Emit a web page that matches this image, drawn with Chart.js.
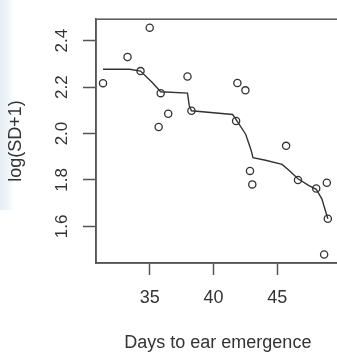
<!DOCTYPE html>
<html>
<head>
<meta charset="utf-8">
<script src="https://cdn.jsdelivr.net/npm/chart.js@4/dist/chart.umd.min.js"></script>
<style>
html,body{margin:0;padding:0;background:#fff;overflow:hidden;width:337px;height:354px;}
#strip{position:absolute;left:0;top:0;width:14px;height:210px;background:linear-gradient(to right,#e6eff5,#f0f5f9 60%,rgba(255,255,255,0));}
#wrap{position:absolute;left:0;top:0;width:345px;height:354px;}
</style>
</head>
<body>
<div id="strip"></div>
<div id="wrap"><canvas id="c" width="345" height="354"></canvas></div>
<script>
// Observed points: days to ear emergence vs log(SD+1)
const days = [31.34, 33.26, 35.00, 34.28, 35.86, 36.45, 35.70, 37.96, 38.27, 41.87, 42.50, 41.77, 45.69, 42.86, 43.04, 46.62, 48.05, 48.88, 48.96, 48.67];
const logSD = [2.217, 2.330, 2.456, 2.269, 2.174, 2.085, 2.028, 2.246, 2.098, 2.218, 2.186, 2.054, 1.947, 1.839, 1.781, 1.800, 1.763, 1.788, 1.633, 1.479];
// Fitted (monotone) curve
const fitDays = [31.34, 33.44, 34.28, 35.20, 35.86, 37.96, 38.10, 38.27, 41.50, 41.77, 42.52, 42.96, 43.09, 44.08, 45.37, 45.89, 46.62, 47.45, 48.05, 48.49, 48.96];
const fitLog = [2.277, 2.277, 2.269, 2.220, 2.180, 2.174, 2.120, 2.098, 2.082, 2.060, 1.997, 1.926, 1.896, 1.885, 1.867, 1.843, 1.805, 1.777, 1.760, 1.719, 1.633];
// Axis ticks
const xTicks = [35, 40, 45];
const yTicks = [1.6, 1.8, 2.0, 2.2, 2.4];
const xTitle = 'Days to ear emergence';
const yTitle = 'log(SD+1)';

const ink = '#333333';
const axisCol = '#555555';
const fontFam = '"Liberation Sans", Arial, sans-serif';

const boxPlugin = {
  id: 'box',
  afterDatasetsDraw(chart) {
    const a = chart.chartArea, ctx = chart.ctx;
    ctx.save();
    ctx.strokeStyle = axisCol;
    ctx.lineWidth = 1.5;
    ctx.strokeRect(a.left, a.top, a.right - a.left, a.bottom - a.top);
    ctx.restore();
  }
};

new Chart(document.getElementById('c'), {
  type: 'scatter',
  data: {
    datasets: [
      {
        type: 'line',
        data: fitDays.map((x, i) => ({x: x, y: fitLog[i]})),
        borderColor: '#333333',
        borderWidth: 1.4,
        pointRadius: 0,
        tension: 0,
        fill: false
      },
      {
        data: days.map((x, i) => ({x: x, y: logSD[i]})),
        showLine: false,
        pointRadius: 3.6,
        pointBorderWidth: 1.3,
        pointBorderColor: '#333333',
        pointBackgroundColor: 'rgba(255,255,255,0)'
      }
    ]
  },
  options: {
    responsive: false,
    animation: false,
    layout: {padding: {top: 10, right: 4, left: 0, bottom: 0}},
    plugins: {legend: {display: false}, tooltip: {enabled: false}},
    scales: {
      x: {
        type: 'linear',
        min: 30.79, max: 49.89,
        afterBuildTicks: s => { s.ticks = xTicks.map(v => ({value: v})); },
        afterFit: s => { s.height = 91; },
        grid: {drawOnChartArea: false, tickLength: 12, tickColor: axisCol, tickWidth: 1.5},
        border: {display: true, color: axisCol, width: 1.5},
        ticks: {color: ink, font: {family: fontFam, size: 18}, padding: 12, maxRotation: 0, callback: v => String(v)},
        title: {display: true, text: xTitle, color: ink, font: {family: fontFam, size: 18}, padding: {top: 0, bottom: 0}}
      },
      y: {
        type: 'linear',
        min: 1.4423, max: 2.4926,
        afterBuildTicks: s => { s.ticks = yTicks.map(v => ({value: v})); },
        afterFit: s => { s.width = 96; },
        grid: {drawOnChartArea: false, tickLength: 13, tickColor: axisCol, tickWidth: 1.5},
        border: {display: true, color: axisCol, width: 1.5},
        ticks: {color: ink, font: {family: fontFam, size: 17}, padding: 9, minRotation: 90, maxRotation: 90, crossAlign: 'center', callback: v => v.toFixed(1)},
        title: {display: true, text: yTitle, color: ink, font: {family: fontFam, size: 18}, padding: {top: 5, bottom: 0}}
      }
    }
  },
  plugins: [boxPlugin]
});
</script>
</body>
</html>
